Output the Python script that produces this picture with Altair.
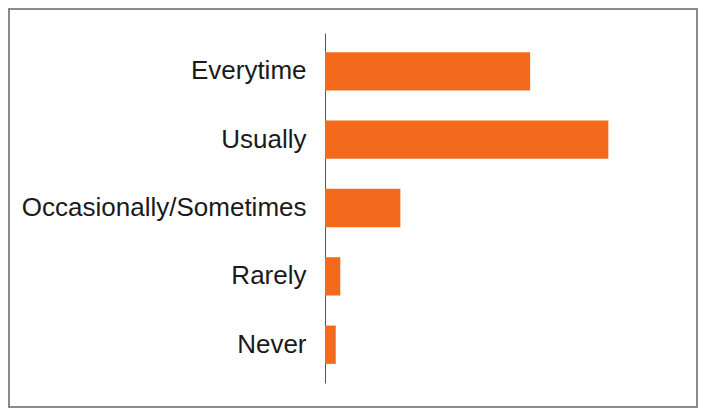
import altair as alt
import pandas as pd

categories = ["Everytime", "Usually", "Occasionally/Sometimes", "Rarely", "Never"]
values = [36.2, 50.0, 13.3, 2.7, 1.9]

df = pd.DataFrame({"category": categories, "value": values})

bars = alt.Chart(df).mark_bar(color="#F36A1C", cornerRadius=0).encode(
    y=alt.Y("category:N", sort=categories, title=None,
            scale=alt.Scale(paddingInner=0.44, paddingOuter=0.28),
            axis=alt.Axis(ticks=False, labelFontSize=26, labelFont="Liberation Sans",
                          labelColor="#1a1a1a", labelPadding=19, domainColor="#555555",
                          domainWidth=1, labelLimit=400)),
    x=alt.X("value:Q", title=None, scale=alt.Scale(domain=[0, 60]),
            axis=None),
)

border = alt.Chart(df).mark_rect(fill=None, stroke="#8a8a8a", strokeWidth=2).encode(
    x=alt.value(-316), x2=alt.value(372), y=alt.value(-24), y2=alt.value(374)
)

chart = alt.layer(border, bars).properties(
    width=340, height=350,
    background="white",
    autosize=alt.AutoSizeParams(type="none"),
    padding={"left": 317, "top": 25, "right": 34, "bottom": 26},
).configure_view(stroke="transparent", strokeWidth=0)

chart.save("out.html", embed_options={"renderer": "svg", "actions": False})
